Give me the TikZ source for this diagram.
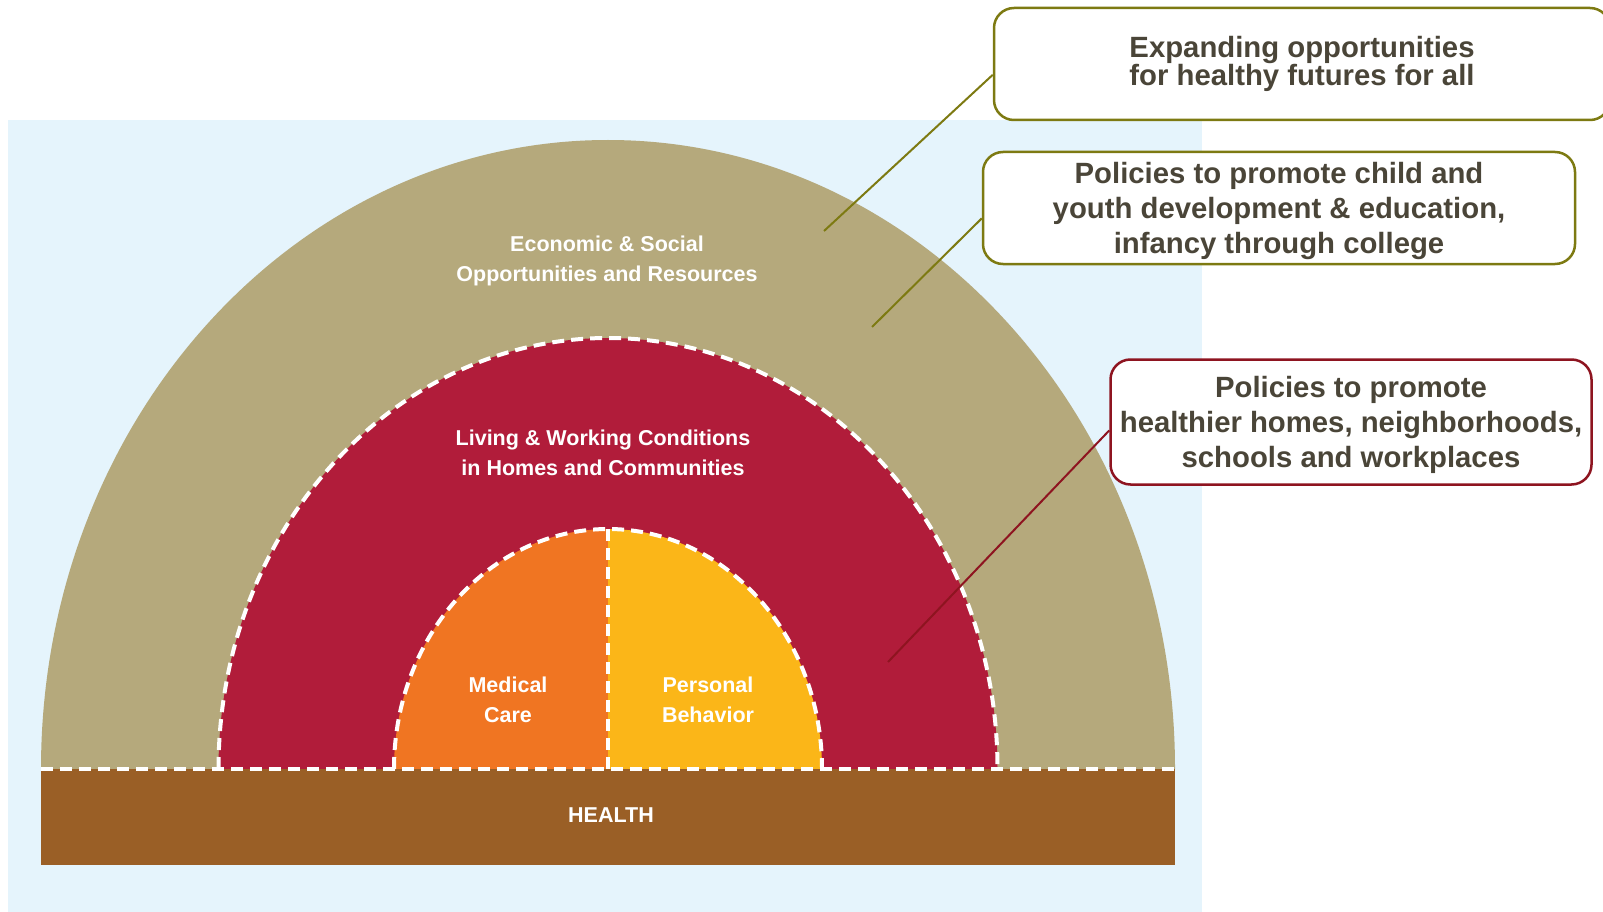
\documentclass[tikz,border=0pt]{standalone}
\usepackage{fontspec}
\setmainfont{Liberation Sans}
\usepackage{tikz}
\definecolor{sky}{HTML}{E5F4FC}
\definecolor{sand}{HTML}{B5A97C}
\definecolor{crimson}{HTML}{B11C3A}
\definecolor{carrot}{HTML}{F07522}
\definecolor{amber}{HTML}{FBB618}
\definecolor{earth}{HTML}{9A5F26}
\definecolor{olivebox}{HTML}{7D7A12}
\definecolor{redbox}{HTML}{8E1420}
\definecolor{ink}{HTML}{4A4538}

\begin{document}
\begin{tikzpicture}[x=1pt,y=1pt,
    gap/.style={white, line width=4pt, dash pattern=on 12pt off 7pt},
    band/.style={text=white, font=\bfseries\fontsize{21.5}{30}\selectfont, align=center},
    callout/.style={draw, line width=2.5pt, rounded corners=20pt, fill=white, text=ink,
      inner sep=2pt, align=center, font=\bfseries\fontsize{29.3}{35}\selectfont}]
    \useasboundingbox (0,0) rectangle (1603,-912);
    \fill[sky] (8,-120) rectangle (1202,-912);
    \fill[sand] (41,-769) arc[start angle=180, end angle=0, x radius=567, y radius=629] -- cycle;
    \fill[crimson] (218.5,-769) arc[start angle=180, end angle=0, x radius=389.5, y radius=431] -- cycle;
    \fill[carrot] (394,-769) arc[start angle=180, end angle=90, x radius=214, y radius=240]
    -- (608,-769) -- cycle;
    \fill[amber] (608,-529) arc[start angle=90, end angle=0, x radius=214, y radius=240]
    -- (608,-769) -- cycle;
    \fill[earth] (41,-769) rectangle (1175,-865);
    \draw[gap] (218.5,-769) arc[start angle=180, end angle=0, x radius=389.5, y radius=431];
    \draw[gap] (394,-769) arc[start angle=180, end angle=0, x radius=214, y radius=240];
    \draw[gap] (608,-529) -- (608,-769);
    \draw[gap] (41,-769) -- (1175,-769);

    \node[band] (econ) at (607,-261) {Economic \& Social\\Opportunities and Resources};
    \node[band] (living) at (603,-453) {Living \& Working Conditions\\in Homes and Communities};
    \node[band] (medical) at (508,-700) {Medical\\Care};
    \node[band] (personal) at (708,-700) {Personal\\Behavior};
    \node[band] (health) at (611,-815) {HEALTH};

    \coordinate (e) at (824,-231); \coordinate (y) at (872,-327); \coordinate (h) at (888,-662);
    \node[callout, draw=olivebox, minimum width=616, minimum height=112,
      font=\bfseries\fontsize{29.3}{28}\selectfont] (futures) at (1302,-64)
    {Expanding opportunities\\for healthy futures for all};
    \node[callout, draw=olivebox, minimum width=592, minimum height=112, text depth=0pt] (youth)
    at (1279,-208) {Policies to promote child and\\youth development \& education,\\infancy through college};
    \node[callout, draw=redbox, minimum width=481, minimum height=125, text depth=0pt] (homes)
    at (1351,-422) {Policies to promote\\healthier homes, neighborhoods,\\schools and workplaces};
    \draw[olivebox, line width=2pt] (e) -- (futures.182);
    \draw[olivebox, line width=2pt] (y) -- (youth.182);
    \draw[redbox, line width=2pt] (h) -- (homes.182);
  \end{tikzpicture}
\end{document}
